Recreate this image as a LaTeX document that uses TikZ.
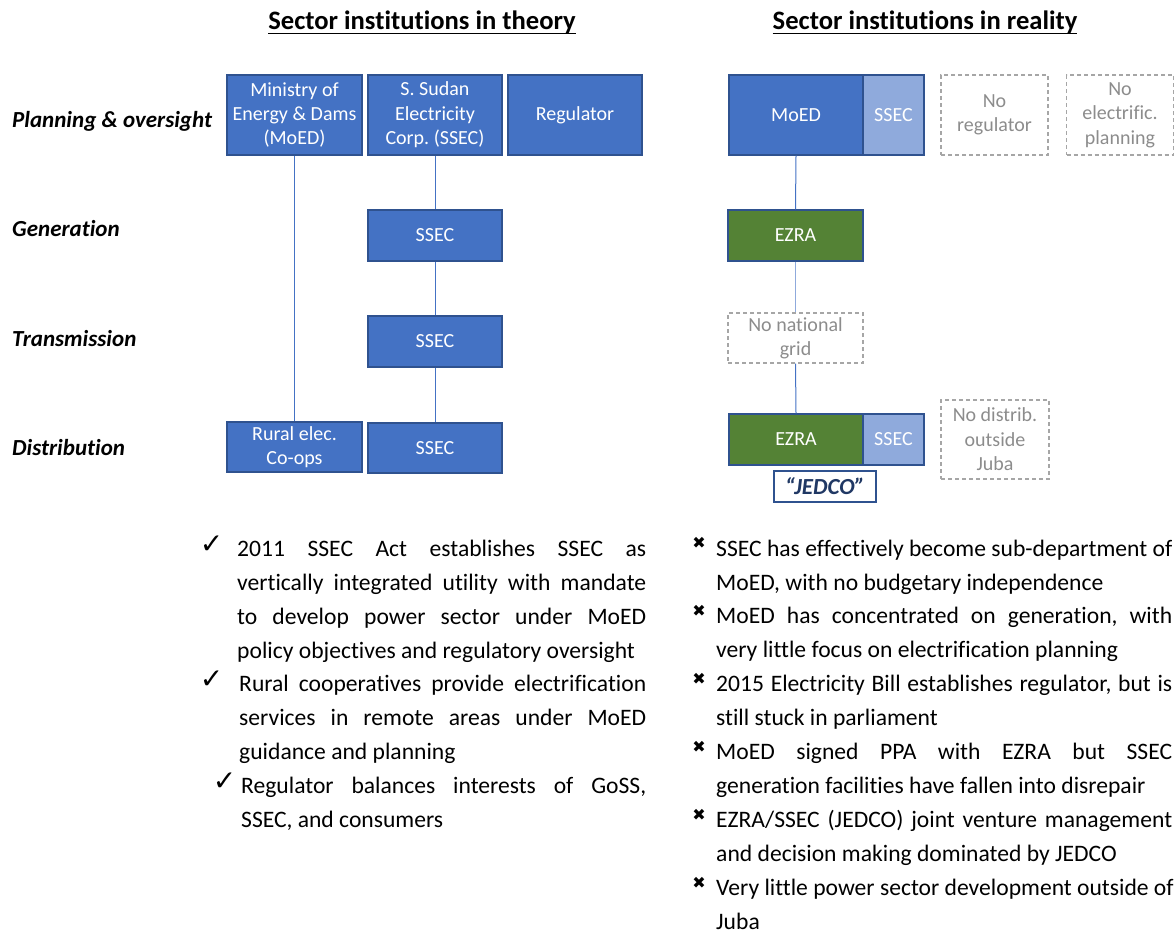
\documentclass[tikz,border=0pt]{standalone}
\usepackage{fontspec}
\setmainfont{Carlito}[Ligatures={NoCommon}]
\newfontfamily\symfont{DejaVu Sans}
\definecolor{boxblue}{HTML}{4472C4}
\definecolor{boxedge}{HTML}{2F528F}
\definecolor{lightblue}{HTML}{8FAADC}
\definecolor{boxgreen}{HTML}{548235}
\definecolor{navy}{HTML}{203864}
\definecolor{dashgrey}{HTML}{A6A6A6}
\definecolor{greytext}{HTML}{8C8C8C}
\definecolor{linkblue}{HTML}{4472C4}
\frenchspacing
\newcommand{\jline}[2]{\leavevmode\hbox to #1{\spaceskip=\fontdimen2\font plus 1fil\relax #2}}
\newcommand{\natsp}{\spaceskip=0pt\xspaceskip=0pt\relax}
\begin{document}
\begin{tikzpicture}[x=1pt,y=-1pt,
  box/.style={draw=boxedge, line width=1.2pt, inner sep=0pt, text=white, align=center,
    font=\fontsize{20}{24.4}\selectfont, execute at begin node=\natsp},
  bluebox/.style={box, fill=boxblue},
  lightbox/.style={box, fill=lightblue},
  greenbox/.style={box, fill=boxgreen},
  nobox/.style={draw=dashgrey, dash pattern=on 4pt off 3pt, line width=1.3pt, inner sep=0pt,
    text=greytext, align=center, font=\fontsize{20}{24.4}\selectfont, execute at begin node=\natsp},
  jedcobox/.style={draw=boxedge, line width=1.2pt, fill=white, inner sep=0pt, text=navy,
    font=\fontsize{23}{26}\selectfont\bfseries\itshape},
  rowlabel/.style={anchor=base west, inner sep=0pt, font=\fontsize{23}{27}\selectfont\bfseries\itshape},
  header/.style={anchor=base, inner sep=0pt, font=\fontsize{26.6}{31}\selectfont\bfseries},
  bullet/.style={anchor=north west, inner sep=0pt, align=left, font=\fontsize{23.6}{33.9}\selectfont},
  check/.style={inner sep=0pt, font=\fontsize{28}{30}\selectfont\symfont},
  cross/.style={inner sep=0pt, font=\fontsize{16}{18}\selectfont\symfont},
  link/.style={draw=linkblue, line width=1pt},
  lightlink/.style={draw=lightblue, line width=1.2pt}
]
\useasboundingbox (0,0) rectangle (1174,932);

% headers
\node[header] (hdrL) at (422,29) {Sector institutions in theory};
\node[header] (hdrR) at (925,29) {Sector institutions in reality};
\draw[line width=1.8pt] ([yshift=-4.5pt]hdrL.base west) -- ([yshift=-4.5pt]hdrL.base east);
\draw[line width=1.8pt] ([yshift=-4.5pt]hdrR.base west) -- ([yshift=-4.5pt]hdrR.base east);

% row labels
\node[rowlabel] (rPlan) at (12,127) {Planning \& oversight};
\node[rowlabel] (rGen) at (12,236) {Generation};
\node[rowlabel] (rTr) at (12,346) {Transmission};
\node[rowlabel] (rDist) at (12,455) {Distribution};

% left (theory) boxes
\node[bluebox, minimum width=135, minimum height=80] (moedT) at (294.5,115) {Ministry of\\Energy \& Dams\\(MoED)};
\node[bluebox, minimum width=134, minimum height=80] (ssecT) at (435,115) {S. Sudan\\Electricity\\Corp. (SSEC)};
\node[bluebox, minimum width=134, minimum height=80] (regT) at (575,115) {Regulator};
\node[bluebox, minimum width=134, minimum height=51] (genT) at (435,235.5) {SSEC};
\node[bluebox, minimum width=134, minimum height=51] (trT) at (435,341.5) {SSEC};
\node[bluebox, minimum width=135, minimum height=50] (ruralT) at (294.5,447) {Rural elec.\\Co-ops};
\node[bluebox, minimum width=134, minimum height=50] (distT) at (435,448) {SSEC};

\draw[link] (moedT.south) -- (ruralT.north);
\draw[link] (ssecT.south) -- (genT.north);
\draw[link] (genT.south) -- (trT.north);
\draw[link] (trT.south) -- (distT.north);

% right (reality) boxes
\node[bluebox, minimum width=134, minimum height=80] (moedR) at (796,115) {MoED};
\node[lightbox, minimum width=61, minimum height=80] (ssecR) at (893.5,115) {SSEC};
\node[nobox, minimum width=107, minimum height=80] (noreg) at (994.5,115) {No\\regulator};
\node[nobox, minimum width=107, minimum height=80] (noplan) at (1120,115) {No\\electrific.\\planning};
\node[greenbox, minimum width=135, minimum height=51] (ezraG) at (795.5,235.5) {EZRA};
\node[nobox, minimum width=135, minimum height=50] (nogrid) at (795.5,338) {No national\\grid};
\node[greenbox, minimum width=134, minimum height=51] (ezraD) at (796,439.5) {EZRA};
\node[lightbox, minimum width=61, minimum height=51] (ssecD) at (893.5,439.5) {SSEC};
\node[jedcobox, minimum width=102, minimum height=31] (jedco) at (825,486.5) {“JEDCO”};
\node[nobox, minimum width=108, minimum height=79] (nodist) at (995,439.5) {No distrib.\\outside\\Juba};

\draw[link] (moedR.south) -- (ezraG.north);
\draw[lightlink] (ezraG.south) -- (nogrid.north);
\draw[link] (nogrid.south) -- (ezraD.north);

% left bullets
\node[check] (ck1) at (211.5,545) {✓};
\node[check] (ck2) at (211.5,680) {✓};
\node[check] (ck3) at (224.5,782) {✓};
\node[bullet, text width=409pt] (lb1) at (237,532.8) {\natsp\strut\jline{409pt}{2011 SSEC Act establishes SSEC as}\\
\jline{409pt}{vertically integrated utility with mandate}\\
\jline{409pt}{to develop power sector under MoED}\\
policy objectives and regulatory oversight};
\node[bullet, text width=407pt] (lb2) at (239,667.8) {\natsp\strut\jline{407pt}{Rural cooperatives provide electrification}\\
\jline{407pt}{services in remote areas under MoED}\\
guidance and planning};
\node[bullet, text width=405pt] (lb3) at (241,769.8) {\natsp\strut\jline{405pt}{Regulator balances interests of GoSS,}\\
SSEC, and consumers};

% right bullets
\node[cross] (x1) at (699,543) {✖};
\node[cross] (x2) at (699,611) {✖};
\node[cross] (x3) at (699,679) {✖};
\node[cross] (x4) at (699,747) {✖};
\node[cross] (x5) at (699,815) {✖};
\node[cross] (x6) at (699,883) {✖};
\node[bullet, text width=456pt] (rb1) at (716,532.8) {\natsp\strut\jline{456pt}{SSEC has effectively become sub-department of}\\
MoED, with no budgetary independence};
\node[bullet, text width=456pt] (rb2) at (716,599.8) {\natsp\strut\jline{456pt}{MoED has concentrated on generation, with}\\
very little focus on electrification planning};
\node[bullet, text width=456pt] (rb3) at (716,667.8) {\natsp\strut\jline{456pt}{2015 Electricity Bill establishes regulator, but is}\\
still stuck in parliament};
\node[bullet, text width=456pt] (rb4) at (716,735.8) {\natsp\strut\jline{456pt}{MoED signed PPA with EZRA but SSEC}\\
generation facilities have fallen into disrepair};
\node[bullet, text width=456pt] (rb5) at (716,803.8) {\natsp\strut\jline{456pt}{EZRA/SSEC (JEDCO) joint venture management}\\
and decision making dominated by JEDCO};
\node[bullet, text width=456pt] (rb6) at (716,871.8) {\natsp\strut\jline{456pt}{Very little power sector development outside of}\\
Juba};
\end{tikzpicture}
\end{document}
